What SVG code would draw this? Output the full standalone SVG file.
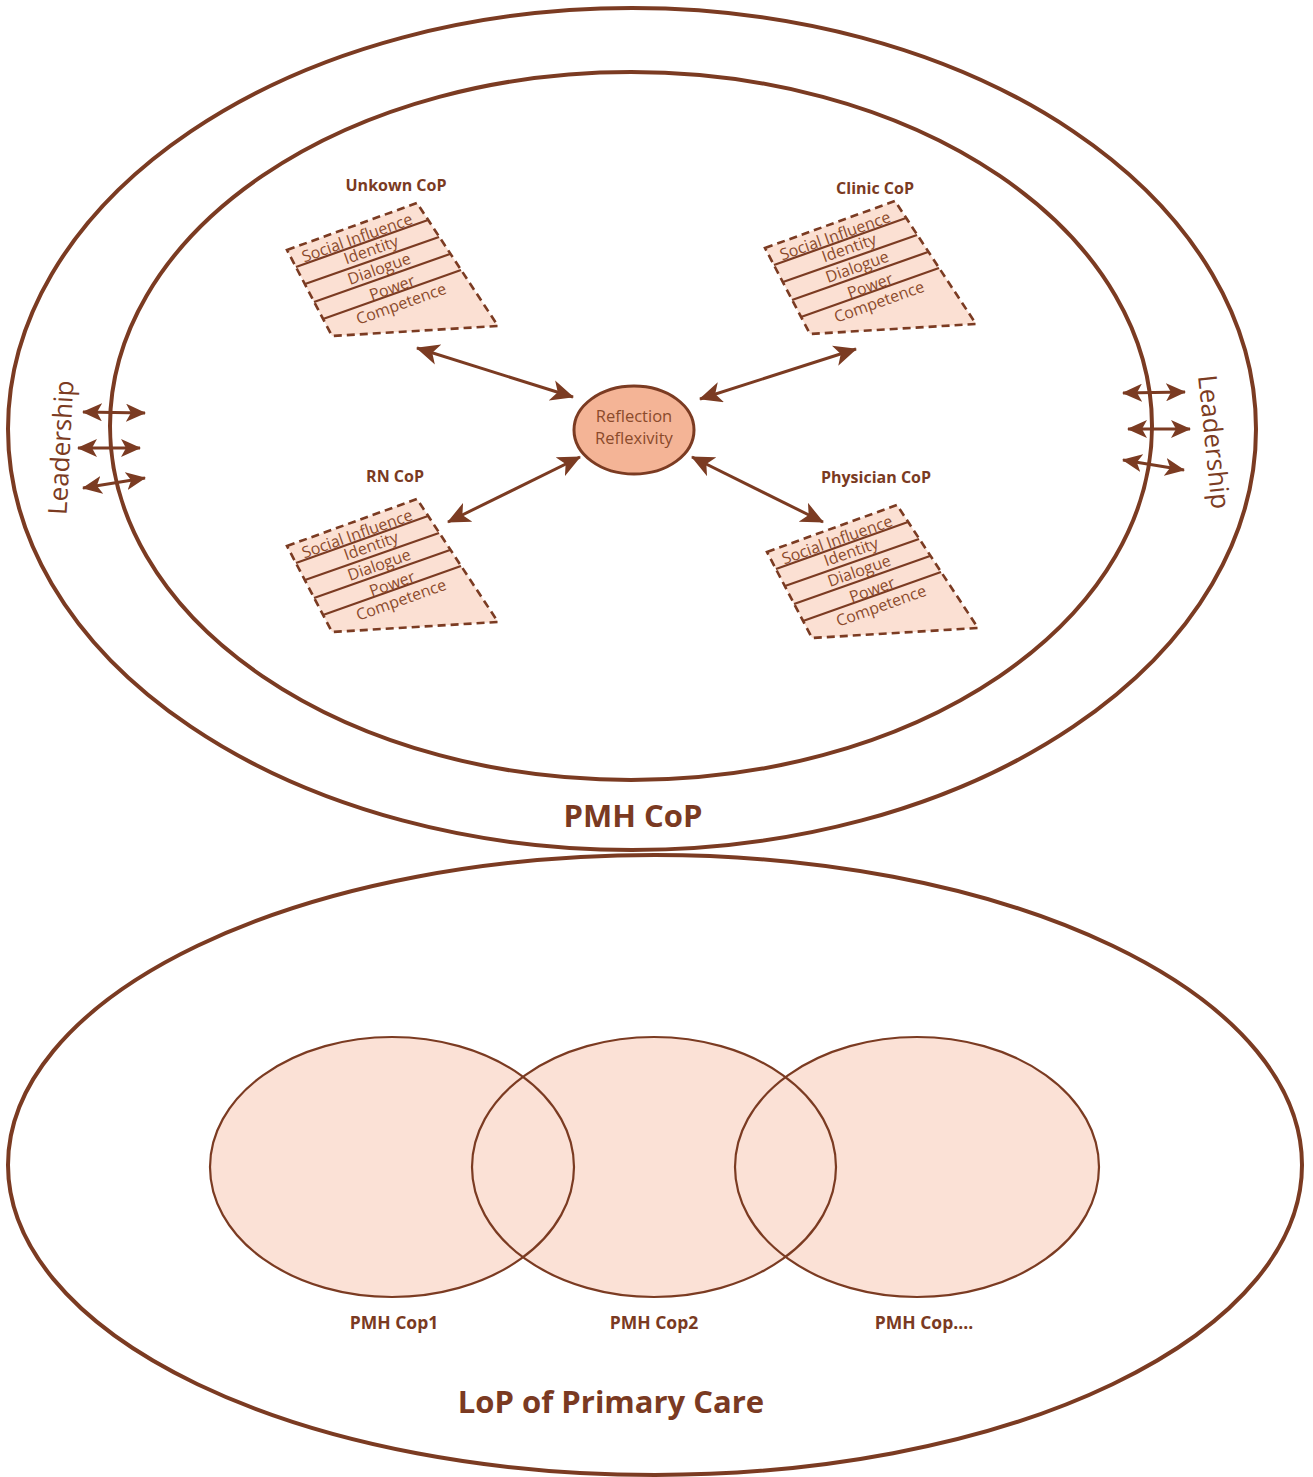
<svg xmlns="http://www.w3.org/2000/svg" width="1313" height="1477" viewBox="0 0 1313 1477">
<defs>
<style>
.big{fill:none;stroke:#7B3B22;stroke-width:4}
.blk{fill:#FBE0D3;stroke:#7B3B22;stroke-width:2.6;stroke-dasharray:8 5}
.sl{stroke:#7B3B22;stroke-width:2.2;fill:none}
.st{font-family:"Open Sans","Liberation Sans",sans-serif;font-size:16px;fill:#8B4A2B;text-anchor:middle}
.ttl{font-family:"Open Sans","Liberation Sans",sans-serif;font-size:16px;font-weight:bold;fill:#7A3A22;text-anchor:middle}
.lbl{font-family:"Open Sans","Liberation Sans",sans-serif;font-size:17.5px;font-weight:bold;fill:#7A3A22;text-anchor:middle}
.hdr{font-family:"Open Sans","Liberation Sans",sans-serif;font-size:31px;font-weight:bold;fill:#7A3A22;text-anchor:middle}
.lead{font-family:"Open Sans","Liberation Sans",sans-serif;font-size:26px;fill:#7B3B22;text-anchor:middle}
.arr{stroke:#7B3B22;stroke-width:3;fill:none;marker-start:url(#ah);marker-end:url(#ah)}
.arr2{stroke:#7B3B22;stroke-width:3;fill:none;marker-start:url(#ah2);marker-end:url(#ah2)}
.cf{fill:#FBE1D6;stroke:none}
.cs{fill:none;stroke:#7B3B22;stroke-width:2.2}
</style>
<marker id="ah" viewBox="0 0 23 21" refX="22" refY="10.5" markerWidth="23" markerHeight="21" orient="auto-start-reverse" markerUnits="userSpaceOnUse">
<path d="M0,0 L23,10.5 L0,21 L6,10.5 z" fill="#7B3B22"/>
</marker>
<marker id="ah2" viewBox="0 0 20 18" refX="19" refY="9" markerWidth="20" markerHeight="18" orient="auto-start-reverse" markerUnits="userSpaceOnUse">
<path d="M0,0 L20,9 L0,18 L5,9 z" fill="#7B3B22"/>
</marker>
</defs>
<rect width="1313" height="1477" fill="#ffffff"/>

<g id="pmh-outer">
<ellipse class="big" cx="632" cy="429" rx="624" ry="421"/>
<text class="hdr" x="633" y="827">PMH CoP</text>
</g>
<g id="pmh-inner">
<ellipse class="big" cx="631" cy="426" rx="521" ry="354"/>
</g>

<g id="leadership-left">
<text class="lead" transform="translate(70,448) rotate(-87)">Leadership</text>
</g>
<g id="leadership-right">
<text class="lead" transform="translate(1205,443) rotate(84)">Leadership</text>
</g>

<g id="center">
<ellipse cx="634" cy="430" rx="60" ry="44" fill="#F4B496" stroke="#7B3B22" stroke-width="3"/>
<text class="st" x="634" y="422" style="font-size:16.5px">Reflection</text>
<text class="st" x="634" y="444" style="font-size:16.5px">Reflexivity</text>
</g>

<g id="unkown-cop">
<text class="ttl" x="396" y="191">Unkown CoP</text>
<polygon class="blk" points="287,250 417,203 498,326 332,336"/>
<path class="sl" d="M296,267L428,220M305,284L439,237M314,302L450,254M323,319L461,270"/>
<text class="st" transform="translate(359,243) rotate(-19.5)">Social Influence</text>
<text class="st" transform="translate(373,255) rotate(-19.5)">Identity</text>
<text class="st" transform="translate(381,274) rotate(-19.5)">Dialogue</text>
<text class="st" transform="translate(394,293) rotate(-19.5)">Power</text>
<text class="st" transform="translate(403,309) rotate(-19.5)">Competence</text>
</g>

<g id="clinic-cop">
<text class="ttl" x="875" y="194">Clinic CoP</text>
<g transform="translate(478,-2)">
<polygon class="blk" points="287,250 417,203 498,326 332,336"/>
<path class="sl" d="M296,267L428,220M305,284L439,237M314,302L450,254M323,319L461,270"/>
<text class="st" transform="translate(359,243) rotate(-19.5)">Social Influence</text>
<text class="st" transform="translate(373,255) rotate(-19.5)">Identity</text>
<text class="st" transform="translate(381,274) rotate(-19.5)">Dialogue</text>
<text class="st" transform="translate(394,293) rotate(-19.5)">Power</text>
<text class="st" transform="translate(403,309) rotate(-19.5)">Competence</text>
</g>
</g>

<g id="rn-cop">
<text class="ttl" x="395" y="482">RN CoP</text>
<g transform="translate(0,296)">
<polygon class="blk" points="287,250 417,203 498,326 332,336"/>
<path class="sl" d="M296,267L428,220M305,284L439,237M314,302L450,254M323,319L461,270"/>
<text class="st" transform="translate(359,243) rotate(-19.5)">Social Influence</text>
<text class="st" transform="translate(373,255) rotate(-19.5)">Identity</text>
<text class="st" transform="translate(381,274) rotate(-19.5)">Dialogue</text>
<text class="st" transform="translate(394,293) rotate(-19.5)">Power</text>
<text class="st" transform="translate(403,309) rotate(-19.5)">Competence</text>
</g>
</g>

<g id="physician-cop">
<text class="ttl" x="876" y="483">Physician CoP</text>
<g transform="translate(480,302)">
<polygon class="blk" points="287,250 417,203 498,326 332,336"/>
<path class="sl" d="M296,267L428,220M305,284L439,237M314,302L450,254M323,319L461,270"/>
<text class="st" transform="translate(359,243) rotate(-19.5)">Social Influence</text>
<text class="st" transform="translate(373,255) rotate(-19.5)">Identity</text>
<text class="st" transform="translate(381,274) rotate(-19.5)">Dialogue</text>
<text class="st" transform="translate(394,293) rotate(-19.5)">Power</text>
<text class="st" transform="translate(403,309) rotate(-19.5)">Competence</text>
</g>
</g>

<g id="connectors">
<line class="arr" x1="417" y1="348" x2="573" y2="397"/>
<line class="arr" x1="700" y1="399" x2="856" y2="349"/>
<line class="arr" x1="448" y1="522" x2="580" y2="457"/>
<line class="arr" x1="692" y1="457" x2="823" y2="522"/>
<line class="arr2" x1="83" y1="412" x2="145" y2="413"/>
<line class="arr2" x1="78" y1="448" x2="140" y2="448"/>
<line class="arr2" x1="83" y1="488" x2="145" y2="478"/>
<line class="arr2" x1="1123" y1="393" x2="1185" y2="392"/>
<line class="arr2" x1="1128" y1="429" x2="1190" y2="429"/>
<line class="arr2" x1="1123" y1="460" x2="1184" y2="470"/>
</g>

<g id="lop-primary-care">
<ellipse class="big" cx="655" cy="1165" rx="647" ry="310"/>
<text class="hdr" x="611" y="1413">LoP of Primary Care</text>
</g>

<g id="pmh-cops">
<ellipse class="cf" cx="392" cy="1167" rx="182" ry="130"/>
<ellipse class="cf" cx="654" cy="1167" rx="182" ry="130"/>
<ellipse class="cf" cx="917" cy="1167" rx="182" ry="130"/>
<ellipse class="cs" cx="392" cy="1167" rx="182" ry="130"/>
<ellipse class="cs" cx="654" cy="1167" rx="182" ry="130"/>
<ellipse class="cs" cx="917" cy="1167" rx="182" ry="130"/>
</g>
<g id="pmh-cop1"><text class="lbl" x="394" y="1329">PMH Cop1</text></g>
<g id="pmh-cop2"><text class="lbl" x="654" y="1329">PMH Cop2</text></g>
<g id="pmh-cop3"><text class="lbl" x="924" y="1329">PMH Cop....</text></g>
</svg>
